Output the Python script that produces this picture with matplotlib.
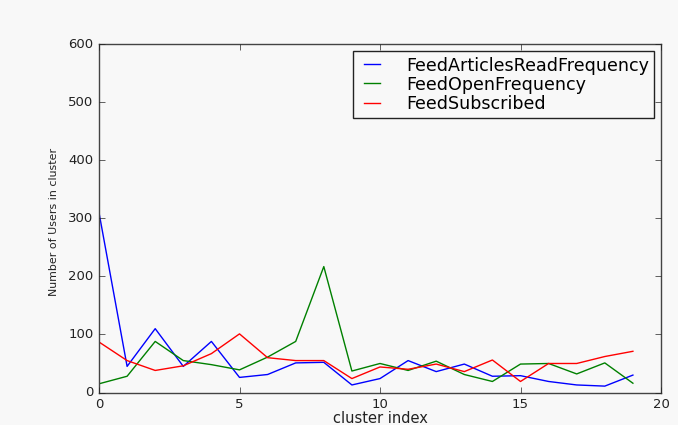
import matplotlib
matplotlib.use("Agg")
import matplotlib.pyplot as plt

plt.style.use("classic")

cluster_index = list(range(20))
feed_articles_read = [310, 45, 110, 45, 88, 26, 31, 51, 52, 13,
                      24, 55, 36, 49, 28, 29, 19, 13, 11, 30]
feed_open = [15, 28, 88, 55, 48, 39, 61, 88, 217, 37,
             50, 38, 54, 31, 19, 49, 50, 32, 51, 16]
feed_subscribed = [87, 55, 38, 46, 67, 101, 60, 55, 55, 24,
                   44, 40, 49, 36, 56, 19, 50, 50, 62, 71]
series_names = ["FeedArticlesReadFrequency", "FeedOpenFrequency", "FeedSubscribed"]
series_colors = ["b", "g", "r"]

fig = plt.figure(figsize=(6.78, 4.25), dpi=100, facecolor="#f8f8f8")
ax = fig.add_axes([99 / 678, 1 - 392.5 / 425, 562 / 678, 348.2 / 425])
ax.set_facecolor("#f8f8f8")

for vals, name, col in zip([feed_articles_read, feed_open, feed_subscribed],
                           series_names, series_colors):
    ax.plot(cluster_index, vals, color=col, linewidth=1.0, label=name)

ax.set_xlim(0, 20)
ax.set_ylim(0, 600)
ax.set_xticks([0, 5, 10, 15, 20])
ax.set_yticks([0, 100, 200, 300, 400, 500, 600])
ax.tick_params(labelsize=9.5, colors="#222222")
for s in ax.spines.values():
    s.set_color("#444444")

ax.set_xlabel("cluster index", fontsize=10.5, color="#222222", labelpad=0)
ax.set_ylabel("Number of Users in cluster", fontsize=7.9, color="#222222")
ax.yaxis.set_label_coords(-0.071, 0.49)

leg = ax.legend(loc="upper right", fontsize=12.6, frameon=True, fancybox=False,
                borderaxespad=0.4, borderpad=0.3, handlelength=1.5,
                handletextpad=1.2, labelspacing=0.06)
leg.get_frame().set_facecolor("#f8f8f8")
leg.get_frame().set_edgecolor("#222222")

fig.savefig("out.png", dpi=100, facecolor=fig.get_facecolor())
